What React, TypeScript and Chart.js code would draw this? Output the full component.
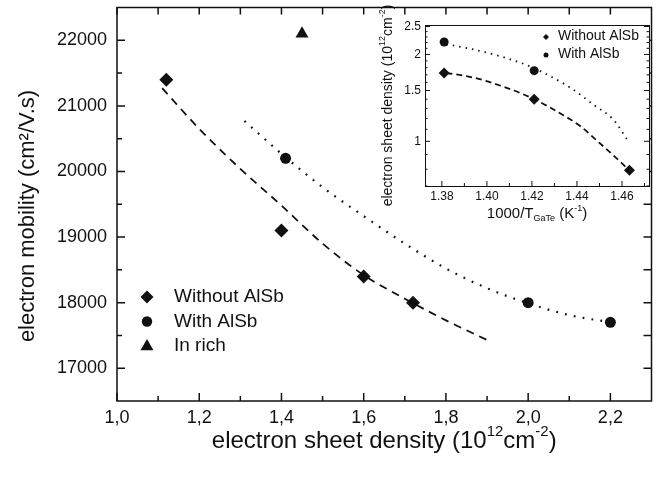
import React, { useEffect, useRef } from 'react';
import { Chart, registerables } from 'chart.js';

Chart.register(...registerables);

const FONT = '"Liberation Sans", Arial, Helvetica, sans-serif';
const INK = '#111111';

// ---------- main chart data ----------
const withoutAlSbX = [1.12, 1.40, 1.60, 1.72];
const withoutAlSbY = [21400, 19100, 18400, 18000];
const withAlSbX = [1.41, 2.00, 2.20];
const withAlSbY = [20200, 18000, 17700];
const inRichX = [1.45];
const inRichY = [22100];
const dashFitX = [1.11, 1.2, 1.3, 1.4, 1.5, 1.6, 1.7, 1.8, 1.9];
const dashFitY = [21270, 20650, 20040, 19480, 18900, 18420, 18060, 17730, 17430];
const dotFitX = [1.31, 1.4, 1.5, 1.6, 1.7, 1.8, 1.9, 2.0, 2.1, 2.2];
const dotFitY = [20770, 20270, 19760, 19320, 18900, 18520, 18220, 17990, 17810, 17700];

const xTicks = [1.0, 1.2, 1.4, 1.6, 1.8, 2.0, 2.2];
const xMinorTicks = [1.1, 1.3, 1.5, 1.7, 1.9, 2.1];
const yTicks = [17000, 18000, 19000, 20000, 21000, 22000];
const yMinorTicks = [17500, 18500, 19500, 20500, 21500];
const legendLabels = ['Without AlSb', 'With AlSb', 'In rich'];

// ---------- inset data ----------
const insetWithoutX = [1.381, 1.421, 1.4633];
const insetWithoutY = [1.725, 1.40, 0.794];
const insetWithX = [1.381, 1.421];
const insetWithY = [2.21, 1.757];
const insetDashX = [1.382, 1.393, 1.407, 1.421, 1.4325, 1.4414, 1.450, 1.459, 1.4632];
const insetDashY = [1.725, 1.67, 1.55, 1.40, 1.25, 1.13, 0.987, 0.853, 0.794];
const insetDotX = [1.382, 1.393, 1.407, 1.419, 1.4295, 1.4384, 1.4473, 1.4561, 1.4628];
const insetDotY = [2.17, 2.09, 1.96, 1.82, 1.66, 1.51, 1.34, 1.19, 1.0];

const insetXTicks = [1.38, 1.40, 1.42, 1.44, 1.46];
const insetXMinor = [1.39, 1.41, 1.43, 1.45, 1.47];
const insetYTicks = [1, 1.5, 2, 2.5];
const insetYMinor = [0.7, 0.8, 0.9, 1.1, 1.2, 1.3, 1.4, 1.6, 1.7, 1.8, 1.9, 2.1, 2.2, 2.3, 2.4];
const insetLegendLabels = ['Without AlSb', 'With AlSb'];

const pts = (xs: number[], ys: number[]) => xs.map((x, i) => ({ x, y: ys[i] }));

type Seg = { t: string; s?: 'sup' | 'sub' };

function drawRich(ctx: CanvasRenderingContext2D, segs: Seg[], cx: number, cy: number, size: number, rotate: boolean) {
  ctx.save();
  ctx.translate(cx, cy);
  if (rotate) ctx.rotate(-Math.PI / 2);
  ctx.fillStyle = INK;
  ctx.textBaseline = 'middle';
  ctx.textAlign = 'left';
  const fontFor = (s?: string) => `${s ? Math.round(size * 0.62) : size}px ${FONT}`;
  let total = 0;
  const widths = segs.map((seg) => {
    ctx.font = fontFor(seg.s);
    const w = ctx.measureText(seg.t).width;
    total += w;
    return w;
  });
  let x = -total / 2;
  segs.forEach((seg, i) => {
    ctx.font = fontFor(seg.s);
    const dy = seg.s === 'sup' ? -size * 0.38 : seg.s === 'sub' ? size * 0.32 : 0;
    ctx.fillText(seg.t, x, dy);
    x += widths[i];
  });
  ctx.restore();
}

function drawMarker(ctx: CanvasRenderingContext2D, style: string, x: number, y: number, r: number) {
  ctx.beginPath();
  if (style === 'diamond') {
    ctx.moveTo(x, y - r);
    ctx.lineTo(x + r, y);
    ctx.lineTo(x, y + r);
    ctx.lineTo(x - r, y);
    ctx.closePath();
  } else if (style === 'circle') {
    ctx.arc(x, y, r, 0, Math.PI * 2);
  } else {
    ctx.moveTo(x, y - r);
    ctx.lineTo(x + r * 0.866, y + r * 0.5);
    ctx.lineTo(x - r * 0.866, y + r * 0.5);
    ctx.closePath();
  }
  ctx.fillStyle = INK;
  ctx.fill();
}

const zeroPadX = (s: any, h: number) => { s.height = h; s.paddingLeft = 0; s.paddingRight = 0; };
const zeroPadY = (s: any, w: number) => { s.width = w; s.paddingTop = 0; s.paddingBottom = 0; };

const mainDecor = {
  id: 'mainDecor',
  afterDraw(chart: any) {
    const { ctx, chartArea: a, scales } = chart;
    const xs = scales.x;
    const ys = scales.y;
    ctx.save();
    ctx.strokeStyle = INK;
    ctx.lineWidth = 1.5;
    ctx.strokeRect(a.left, a.top, a.right - a.left, a.bottom - a.top);
    ctx.beginPath();
    xTicks.forEach((v) => { const p = xs.getPixelForValue(v); ctx.moveTo(p, a.bottom); ctx.lineTo(p, a.bottom - 8); });
    xMinorTicks.forEach((v) => { const p = xs.getPixelForValue(v); ctx.moveTo(p, a.bottom); ctx.lineTo(p, a.bottom - 5); });
    [...xTicks, ...xMinorTicks].forEach((v) => { const p = xs.getPixelForValue(v); ctx.moveTo(p, a.top); ctx.lineTo(p, a.top + 7); });
    yTicks.forEach((v) => { const p = ys.getPixelForValue(v); ctx.moveTo(a.left, p); ctx.lineTo(a.left + 8, p); });
    yMinorTicks.forEach((v) => { const p = ys.getPixelForValue(v); ctx.moveTo(a.left, p); ctx.lineTo(a.left + 5, p); });
    [...yTicks, ...yMinorTicks].forEach((v) => { const p = ys.getPixelForValue(v); ctx.moveTo(a.right, p); ctx.lineTo(a.right - 8, p); });
    ctx.stroke();

    drawRich(ctx, [{ t: 'electron sheet density (10' }, { t: '12', s: 'sup' }, { t: 'cm' }, { t: '-2', s: 'sup' }, { t: ')' }],
      (a.left + a.right) / 2, 441, 24, false);
    drawRich(ctx, [{ t: 'electron mobility (cm²/V.s)' }], 28, 216, 22, true);

    const styles = ['diamond', 'circle', 'triangle'];
    const radii = [6.5, 5.2, 7.5];
    const rowsY = [297, 321.5, 345.5];
    legendLabels.forEach((lab, i) => {
      drawMarker(ctx, styles[i], 147, rowsY[i] + (styles[i] === 'triangle' ? 1 : 0), radii[i]);
      ctx.fillStyle = INK;
      ctx.font = `19px ${FONT}`;
      ctx.textBaseline = 'middle';
      ctx.textAlign = 'left';
      ctx.fillText(lab, 174, rowsY[i]);
    });
    ctx.restore();
  },
};

const insetDecor = {
  id: 'insetDecor',
  beforeDatasetsDraw(chart: any) {
    const { ctx, chartArea: a } = chart;
    ctx.save();
    ctx.fillStyle = '#ffffff';
    ctx.fillRect(a.left, a.top, a.right - a.left, a.bottom - a.top);
    ctx.restore();
  },
  afterDraw(chart: any) {
    const { ctx, chartArea: a, scales } = chart;
    const xs = scales.x;
    const ys = scales.y;
    ctx.save();
    ctx.strokeStyle = INK;
    ctx.lineWidth = 1;
    ctx.strokeRect(a.left + 0.5, a.top + 0.5, a.right - a.left, a.bottom - a.top);
    ctx.beginPath();
    insetXTicks.forEach((v) => { const p = xs.getPixelForValue(v); ctx.moveTo(p, a.bottom); ctx.lineTo(p, a.bottom - 5); });
    insetXMinor.forEach((v) => { const p = xs.getPixelForValue(v); if (p < a.right) { ctx.moveTo(p, a.bottom); ctx.lineTo(p, a.bottom - 3); } });
    insetYTicks.forEach((v) => {
      const p = ys.getPixelForValue(v);
      ctx.moveTo(a.left, p); ctx.lineTo(a.left + 5, p);
      ctx.moveTo(a.right, p); ctx.lineTo(a.right - 5, p);
    });
    insetYMinor.forEach((v) => {
      const p = ys.getPixelForValue(v);
      ctx.moveTo(a.left, p); ctx.lineTo(a.left + 2.5, p);
      ctx.moveTo(a.right, p); ctx.lineTo(a.right - 2.5, p);
    });
    ctx.stroke();

    drawRich(ctx, [{ t: '1000/T' }, { t: 'GaTe', s: 'sub' }, { t: ' (K' }, { t: '-1', s: 'sup' }, { t: ')' }],
      (a.left + a.right) / 2, 214, 15, false);
    drawRich(ctx, [{ t: 'electron sheet density (10' }, { t: '12', s: 'sup' }, { t: 'cm' }, { t: '-2', s: 'sup' }, { t: ')' }],
      13, (a.top + a.bottom) / 2, 14, true);

    const styles = ['diamond', 'circle'];
    const rowsY = [36, 54];
    insetLegendLabels.forEach((lab, i) => {
      drawMarker(ctx, styles[i], 171, rowsY[i] + 1, styles[i] === 'diamond' ? 3 : 2.5);
      ctx.fillStyle = INK;
      ctx.font = `14px ${FONT}`;
      ctx.textBaseline = 'middle';
      ctx.textAlign = 'left';
      ctx.fillText(lab, 183, rowsY[i]);
    });
    ctx.restore();
  },
};

export default function App() {
  const mainRef = useRef<HTMLCanvasElement>(null);
  const insetRef = useRef<HTMLCanvasElement>(null);

  useEffect(() => {
    const tickFont = { family: FONT, size: 18 };
    const main = new Chart(mainRef.current as HTMLCanvasElement, {
      type: 'scatter',
      data: {
        datasets: [
          { data: pts(dashFitX, dashFitY), showLine: true, borderColor: INK, borderWidth: 1.8, borderDash: [8, 6], pointRadius: 0, cubicInterpolationMode: 'monotone' } as any,
          { data: pts(dotFitX, dotFitY), showLine: true, borderColor: INK, borderWidth: 2.2, borderDash: [1.8, 7.2], pointRadius: 0, cubicInterpolationMode: 'monotone' } as any,
          { label: legendLabels[0], data: pts(withoutAlSbX, withoutAlSbY), pointStyle: 'rectRot', pointRadius: 7, backgroundColor: INK, borderColor: INK, borderWidth: 0 },
          { label: legendLabels[1], data: pts(withAlSbX, withAlSbY), pointStyle: 'circle', pointRadius: 5.5, backgroundColor: INK, borderColor: INK, borderWidth: 0 },
          { label: legendLabels[2], data: pts(inRichX, inRichY), pointStyle: 'triangle', pointRadius: 7.5, backgroundColor: INK, borderColor: INK, borderWidth: 0 },
        ],
      },
      options: {
        animation: false,
        responsive: false,
        devicePixelRatio: 1,
        layout: { padding: { left: 0, top: 6, right: 3, bottom: 0 } },
        plugins: { legend: { display: false }, tooltip: { enabled: false } },
        scales: {
          x: {
            type: 'linear', min: 1.0, max: 2.3,
            grid: { display: false, drawTicks: false },
            border: { display: false },
            afterBuildTicks: (s: any) => { s.ticks = xTicks.map((v) => ({ value: v })); },
            afterFit: (s: any) => zeroPadX(s, 77),
            ticks: { font: tickFont, color: INK, padding: 6, maxRotation: 0, autoSkip: false,
              callback: (v: any) => Number(v).toFixed(1).replace('.', ',') },
          },
          y: {
            type: 'linear', min: 16500, max: 22500,
            grid: { display: false, drawTicks: false },
            border: { display: false },
            afterBuildTicks: (s: any) => { s.ticks = yTicks.map((v) => ({ value: v })); },
            afterFit: (s: any) => zeroPadY(s, 117),
            ticks: { font: tickFont, color: INK, padding: 10, autoSkip: false, callback: (v: any) => String(v) },
          },
        },
      } as any,
      plugins: [mainDecor],
    });

    const insetTick = { family: FONT, size: 12 };
    const inset = new Chart(insetRef.current as HTMLCanvasElement, {
      type: 'scatter',
      data: {
        datasets: [
          { data: pts(insetDashX, insetDashY), showLine: true, borderColor: INK, borderWidth: 1.8, borderDash: [6, 4], pointRadius: 0, cubicInterpolationMode: 'monotone' } as any,
          { data: pts(insetDotX, insetDotY), showLine: true, borderColor: INK, borderWidth: 1.8, borderDash: [1.5, 5], pointRadius: 0, cubicInterpolationMode: 'monotone' } as any,
          { label: insetLegendLabels[0], data: pts(insetWithoutX, insetWithoutY), pointStyle: 'rectRot', pointRadius: 5.5, backgroundColor: INK, borderColor: INK, borderWidth: 0 },
          { label: insetLegendLabels[1], data: pts(insetWithX, insetWithY), pointStyle: 'circle', pointRadius: 4.5, backgroundColor: INK, borderColor: INK, borderWidth: 0 },
        ],
      },
      options: {
        animation: false,
        responsive: false,
        devicePixelRatio: 1,
        layout: { padding: { left: 0, top: 25, right: 10, bottom: 0 } },
        plugins: { legend: { display: false }, tooltip: { enabled: false } },
        scales: {
          x: {
            type: 'linear', min: 1.3725, max: 1.472,
            grid: { display: false, drawTicks: false },
            border: { display: false },
            afterBuildTicks: (s: any) => { s.ticks = insetXTicks.map((v) => ({ value: v })); },
            afterFit: (s: any) => zeroPadX(s, 39),
            ticks: { font: insetTick, color: INK, padding: 3, maxRotation: 0, autoSkip: false,
              callback: (v: any) => Number(v).toFixed(2) },
          },
          y: {
            type: 'logarithmic', min: 0.70, max: 2.53,
            grid: { display: false, drawTicks: false },
            border: { display: false },
            afterBuildTicks: (s: any) => { s.ticks = insetYTicks.map((v) => ({ value: v })); },
            afterFit: (s: any) => zeroPadY(s, 50),
            ticks: { font: insetTick, color: INK, padding: 4, autoSkip: false, callback: (v: any) => String(v) },
          },
        },
      } as any,
      plugins: [insetDecor],
    });

    return () => {
      main.destroy();
      inset.destroy();
    };
  }, []);

  return (
    <div style={{ position: 'fixed', left: 0, top: 0, width: 659, height: 478, background: '#ffffff' }}>
      <canvas ref={mainRef} width={659} height={478} style={{ position: 'absolute', left: 0, top: 0 }} />
      <canvas ref={insetRef} width={284} height={225} style={{ position: 'absolute', left: 375, top: 0 }} />
    </div>
  );
}
